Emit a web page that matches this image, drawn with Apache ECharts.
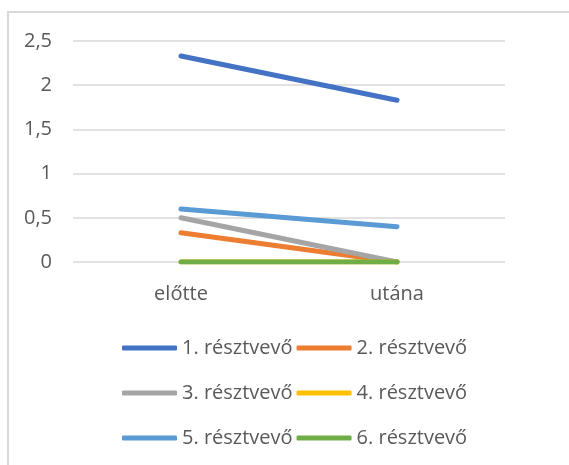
<!DOCTYPE html>
<html>
<head>
<meta charset="utf-8">
<script src="https://cdn.jsdelivr.net/npm/echarts@6/dist/echarts.min.js"></script>
<style>
html,body{margin:0;padding:0;background:#fff;}
#c{width:569px;height:465px;}
</style>
</head>
<body>
<div id="c"></div>
<script>
const categories = ['előtte', 'utána'];
const seriesNames = ['1. résztvevő', '2. résztvevő', '3. résztvevő', '4. résztvevő', '5. résztvevő', '6. résztvevő'];
const s1 = [2.33, 1.83];
const s2 = [0.33, 0];
const s3 = [0.5, 0];
const s4 = [0, 0];
const s5 = [0.6, 0.4];
const s6 = [0, 0];
const yTicks = [0, 0.5, 1, 1.5, 2, 2.5];

const values = [s1, s2, s3, s4, s5, s6];
const colors = ['#4472C4', '#ED7D31', '#A5A5A5', '#FFC000', '#5B9BD5', '#70AD47'];
const font = 'Open Sans, Liberation Sans, sans-serif';
const textColor = '#595959';
const fs = 20;

const chart = echarts.init(document.getElementById('c'));
function legendRow(names, top) {
  return {
    data: names,
    left: 117,
    top: top,
    orient: 'horizontal',
    itemWidth: 55,
    itemHeight: 5,
    itemGap: 4,
    icon: 'roundRect',
    textStyle: { fontSize: fs, color: textColor, fontFamily: font, padding: [0, 0, 0, 0] }
  };
}
chart.setOption({
  animation: false,
  color: colors,
  graphic: [{
    type: 'rect', shape: { x: 8, y: 12, width: 700, height: 600 },
    style: { fill: 'none', stroke: '#d9d9d9', lineWidth: 2 }, silent: true, z: -1
  }],
  grid: { left: 73, right: 64, top: 41, bottom: 203 },
  legend: [
    legendRow(seriesNames.slice(0, 2), 333),
    legendRow(seriesNames.slice(2, 4), 378),
    legendRow(seriesNames.slice(4, 6), 423)
  ],
  xAxis: {
    type: 'category',
    data: categories,
    boundaryGap: true,
    axisLine: { show: false },
    axisTick: { show: false },
    axisLabel: { fontSize: fs, color: textColor, fontFamily: font, margin: 22 }
  },
  yAxis: {
    type: 'value',
    min: yTicks[0],
    max: yTicks[yTicks.length - 1],
    interval: 0.5,
    axisLine: { show: false },
    axisTick: { show: false },
    splitLine: { lineStyle: { color: '#d9d9d9', width: 1.5 } },
    axisLabel: {
      fontSize: fs, color: textColor, fontFamily: font, margin: 21,
      formatter: v => String(v).replace('.', ',')
    }
  },
  series: values.map((d, i) => ({
    name: seriesNames[i],
    type: 'line',
    data: d,
    symbol: 'none',
    lineStyle: { width: 5, cap: 'round', color: colors[i] },
    itemStyle: { color: colors[i] }
  }))
});
</script>
</body>
</html>
